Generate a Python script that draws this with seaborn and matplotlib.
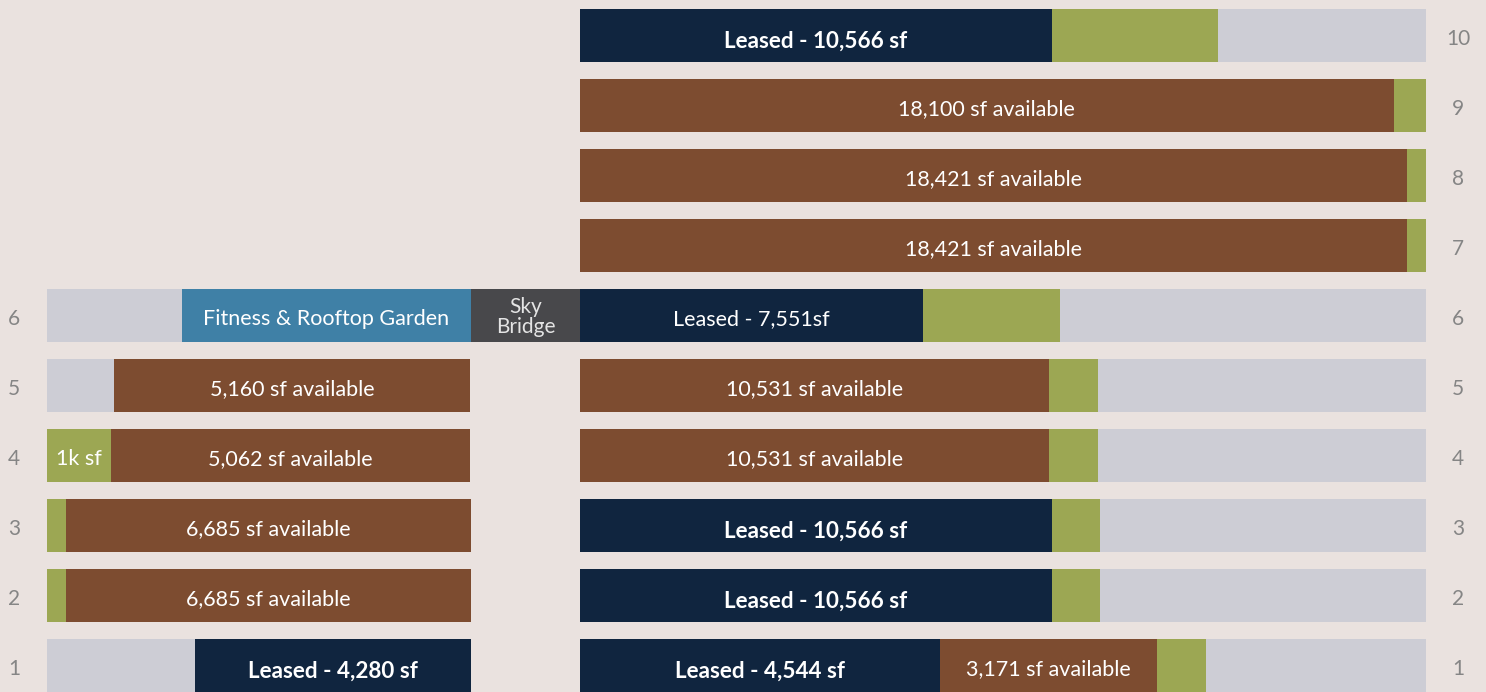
import matplotlib
matplotlib.use("Agg")
import matplotlib.pyplot as plt
import pandas as pd
import seaborn as sns

# ---------------- data ----------------
floors = ["10", "9", "8", "7", "6", "5", "4", "3", "2", "1"]
kinds = ["leased", "available", "core", "vacant", "fitness", "bridge"]

# Right (main) building: segments left-to-right, widths in % of floor plate
r_floor = ["10", "10", "10", "9", "9", "8", "8", "7", "7", "6", "6", "6",
           "5", "5", "5", "4", "4", "4", "3", "3", "3", "2", "2", "2",
           "1", "1", "1", "1"]
r_kind = ["leased", "core", "vacant", "available", "core", "available", "core",
          "available", "core", "leased", "core", "vacant",
          "available", "core", "vacant", "available", "core", "vacant",
          "leased", "core", "vacant", "leased", "core", "vacant",
          "leased", "available", "core", "vacant"]
r_width = [55.8, 19.6, 24.6, 96.2, 3.8, 97.8, 2.2, 97.8, 2.2, 40.5, 16.2, 43.3,
           55.4, 5.8, 38.8, 55.4, 5.8, 38.8, 55.8, 5.7, 38.5, 55.8, 5.7, 38.5,
           42.6, 25.6, 5.8, 26.0]
r_label = ["Leased - 10,566 sf", "", "", "18,100 sf available", "",
           "18,421 sf available", "", "18,421 sf available", "",
           "Leased - 7,551sf", "", "",
           "10,531 sf available", "", "", "10,531 sf available", "", "",
           "Leased - 10,566 sf", "", "", "Leased - 10,566 sf", "", "",
           "Leased - 4,544 sf", "3,171 sf available", "", ""]
r_bold = [True, False, False, False, False, False, False, False, False,
          False, False, False, False, False, False, False, False, False,
          True, False, False, True, False, False, True, False, False, False]

# Left building (+ sky bridge on floor 6): widths in % of floor plate
l_floor = ["6", "6", "6", "5", "5", "4", "4", "3", "3", "2", "2", "1", "1"]
l_kind = ["vacant", "fitness", "bridge", "vacant", "available", "core", "available",
          "core", "available", "core", "available", "vacant", "leased"]
l_width = [31.8, 68.2, 25.7, 15.8, 84.0, 15.1, 84.7, 4.5, 95.5, 4.4, 95.6, 34.9, 65.1]
l_label = ["", "Fitness & Rooftop Garden", "Sky\nBridge", "", "5,160 sf available",
           "1k sf", "5,062 sf available", "", "6,685 sf available", "",
           "6,685 sf available", "", "Leased - 4,280 sf"]
l_bold = [False, False, False, False, False, False, False, False, False,
          False, False, False, True]

left_floor_numbers = ["6", "5", "4", "3", "2", "1"]
right_floor_numbers = floors

# ---------------- style ----------------
BG = "#EAE2DF"
palette = {"leased": "#10253F", "available": "#7D4C30", "core": "#9CA753",
           "vacant": "#CDCDD5", "fitness": "#3F80A6", "bridge": "#48484B"}
FONT = ["Lato", "DejaVu Sans"]

sns.set_theme(style="white")
plt.rcParams["font.family"] = FONT

W, H = 1486, 692
fig = plt.figure(figsize=(W / 100, H / 100), dpi=100, facecolor=BG)

pitch = 70.0
first_center = 35.5
ylim = ((H - first_center) / pitch, -first_center / pitch)
bar_w = 53.0 / pitch
dy = 0.045
dy_bold = 0.08


def build(fl, kd, wd, lb, bd):
    df = pd.DataFrame({"floor": fl, "kind": kd, "width": wd, "label": lb, "bold": bd})
    df["end"] = df.groupby("floor", sort=False)["width"].cumsum()
    df["start"] = df["end"] - df["width"]
    df["seg"] = df.groupby("floor", sort=False).cumcount()
    df["nseg"] = df.groupby("floor", sort=False)["seg"].transform("max") + 1
    df["layer"] = df["nseg"] - 1 - df["seg"]
    return df


def draw(ax, df):
    for layer in sorted(df["layer"].unique()):
        sub = df[df["layer"] == layer]
        sns.barplot(data=sub, x="end", y="floor", hue="kind", order=floors,
                    hue_order=kinds, palette=palette, dodge=False, width=bar_w,
                    saturation=1, errorbar=None, legend=False, orient="h",
                    linewidth=0, ax=ax)
    for _, r in df.iterrows():
        if r["label"]:
            y = floors.index(r["floor"])
            x = r["start"] + r["width"] / 2
            multi = "\n" in r["label"]
            if multi:
                ax.text(x, y + 0.02, r["label"], ha="center", va="center",
                        color="#E4E4E4", fontsize=15, linespacing=0.95,
                        family=FONT)
            else:
                ax.text(x, y + (dy_bold if r["bold"] else dy), r["label"],
                        ha="center", va="center", color="white",
                        fontsize=16.2 if r["bold"] else 15.5,
                        fontweight="bold" if r["bold"] else "normal",
                        family=FONT)
    ax.set_ylim(*ylim)
    ax.set_axis_off()


dfl = build(l_floor, l_kind, l_width, l_label, l_bold)
dfr = build(r_floor, r_kind, r_width, r_label, r_bold)

axl = fig.add_axes([47 / W, 0, 533 / W, 1])
axl.set_xlim(0, 125.7)
axl.patch.set_alpha(0)
draw(axl, dfl)
axl.set_xlim(0, 125.7)

axr = fig.add_axes([580 / W, 0, 846 / W, 1])
axr.set_xlim(0, 100)
axr.patch.set_alpha(0)
draw(axr, dfr)
axr.set_xlim(0, 100)

for f in left_floor_numbers:
    axl.text(-33 / 4.24, floors.index(f) + dy, f, ha="center", va="center",
             color="#858585", fontsize=15, clip_on=False)
for f in right_floor_numbers:
    axr.text(100 + 32 / 8.46, floors.index(f) + dy, f, ha="center", va="center",
             color="#858585", fontsize=15, clip_on=False)

fig.savefig("out.png", dpi=100, facecolor=BG)
